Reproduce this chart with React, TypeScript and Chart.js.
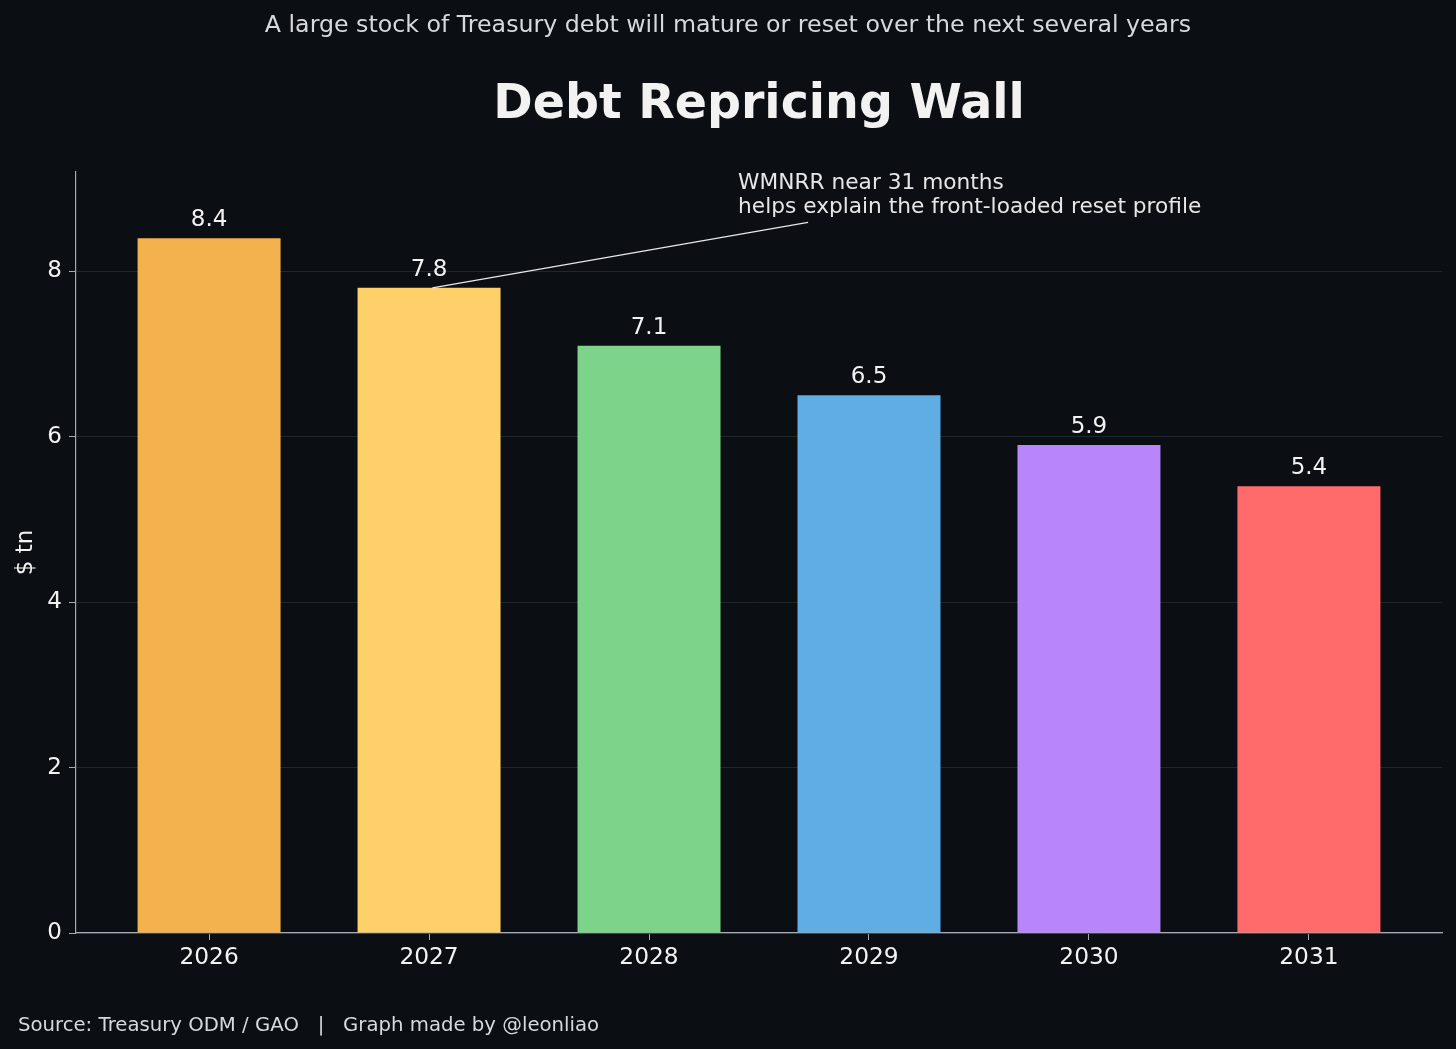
import { useEffect, useRef } from 'react';
import { Chart, registerables } from 'chart.js';

Chart.register(...registerables);

// data
const years = ['2026', '2027', '2028', '2029', '2030', '2031'];
const debtTn = [8.4, 7.8, 7.1, 6.5, 5.9, 5.4];
const barColors = ['#F4B24F', '#FED069', '#7ED38B', '#5FADE2', '#B886FA', '#FF6B6B'];
const yTicks = [0, 2, 4, 6, 8];

const headline = 'A large stock of Treasury debt will mature or reset over the next several years';
const chartTitle = 'Debt Repricing Wall';
const noteLines = ['WMNRR near 31 months', 'helps explain the front-loaded reset profile'];
const sourceLine = 'Source: Treasury ODM / GAO   |   Graph made by @leonliao';

const BG = '#0b0e13';
const FG = '#f2f2f2';
const SPINE = '#a3aab3';
const FONT = "'DejaVu Sans', sans-serif";

const decorPlugin = {
  id: 'decor',
  beforeDraw(chart: Chart) {
    const { ctx, width, height } = chart;
    ctx.save();
    ctx.fillStyle = BG;
    ctx.fillRect(0, 0, width, height);
    ctx.restore();
  },
  afterDatasetsDraw(chart: Chart) {
    const { ctx, chartArea, width } = chart;
    const xs = chart.scales.x;
    const ys = chart.scales.y;
    ctx.save();

    // value labels on top of the bars
    ctx.fillStyle = FG;
    ctx.font = `23px ${FONT}`;
    ctx.textAlign = 'center';
    ctx.textBaseline = 'alphabetic';
    chart.getDatasetMeta(0).data.forEach((bar: any, i: number) => {
      ctx.fillText(debtTn[i].toFixed(1), bar.x, bar.y - 12);
    });

    // annotation
    ctx.strokeStyle = '#e8e8e8';
    ctx.lineWidth = 1.3;
    ctx.beginPath();
    ctx.moveTo(xs.getPixelForValue(1.015), ys.getPixelForValue(debtTn[1]));
    ctx.lineTo(xs.getPixelForValue(2.723), ys.getPixelForValue(8.59));
    ctx.stroke();
    ctx.fillStyle = '#e6e6e6';
    ctx.font = `21.7px ${FONT}`;
    ctx.textAlign = 'left';
    const tx = xs.getPixelForValue(2.405);
    ctx.fillText(noteLines[0], tx, ys.getPixelForValue(8.99));
    ctx.fillText(noteLines[1], tx, ys.getPixelForValue(8.7));

    // headline, title, source
    ctx.fillStyle = '#d6d9dd';
    ctx.font = `23.7px ${FONT}`;
    ctx.textAlign = 'center';
    ctx.fillText(headline, width / 2, 32);
    ctx.fillStyle = FG;
    ctx.font = `bold 47.5px ${FONT}`;
    ctx.fillText(chartTitle, (chartArea.left + chartArea.right) / 2, 118);
    ctx.fillStyle = '#d6d9dd';
    ctx.font = `19.7px ${FONT}`;
    ctx.textAlign = 'left';
    ctx.fillText(sourceLine, 18, 1031);
    ctx.restore();
  },
};

export default function App() {
  const canvasRef = useRef<HTMLCanvasElement>(null);
  const chartRef = useRef<Chart | null>(null);

  useEffect(() => {
    document.body.style.margin = '0';
    document.body.style.background = BG;
    if (!canvasRef.current) return;
    if (chartRef.current) chartRef.current.destroy();

    chartRef.current = new Chart(canvasRef.current, {
      type: 'bar',
      data: {
        datasets: [{
          data: debtTn.map((v, i) => ({ x: i, y: v })),
          backgroundColor: barColors,
          borderWidth: 0,
          barPercentage: 0.65,
          categoryPercentage: 1,
        }],
      },
      options: {
        animation: false,
        responsive: true,
        maintainAspectRatio: false,
        layout: { padding: { top: 172, right: 14, bottom: 0, left: 0 } },
        plugins: {
          legend: { display: false },
          tooltip: { enabled: false },
        },
        scales: {
          x: {
            type: 'linear',
            offset: false,
            min: -0.605,
            max: 5.605,
            afterBuildTicks: (scale: any) => {
              scale.ticks = years.map((_, i) => ({ value: i }));
            },
            afterFit: (scale: any) => {
              scale.height = 116;
            },
            ticks: {
              color: FG,
              font: { family: FONT, size: 23.3 },
              padding: 4,
              maxRotation: 0,
              callback: (v: any) => years[v],
            },
            grid: { offset: false, drawOnChartArea: false, drawTicks: true, tickLength: 7, tickColor: SPINE },
            border: { color: SPINE, width: 1.2 },
          },
          y: {
            min: 0,
            max: 9.2,
            afterBuildTicks: (scale: any) => {
              scale.ticks = yTicks.map((v) => ({ value: v }));
            },
            afterFit: (scale: any) => {
              scale.width = 76;
            },
            ticks: {
              color: FG,
              font: { family: FONT, size: 23 },
              padding: 7,
            },
            title: {
              display: true,
              text: '$ tn',
              color: FG,
              font: { family: FONT, size: 23 },
              padding: { top: 12, bottom: 0 },
            },
            grid: { color: '#20262d', lineWidth: 1, tickLength: 7, tickColor: SPINE },
            border: { color: SPINE, width: 1.2 },
          },
        },
      },
      plugins: [decorPlugin],
    });

    return () => {
      if (chartRef.current) {
        chartRef.current.destroy();
        chartRef.current = null;
      }
    };
  }, []);

  return (
    <div style={{ width: 1456, height: 1049, background: BG }}>
      <canvas ref={canvasRef} />
    </div>
  );
}
